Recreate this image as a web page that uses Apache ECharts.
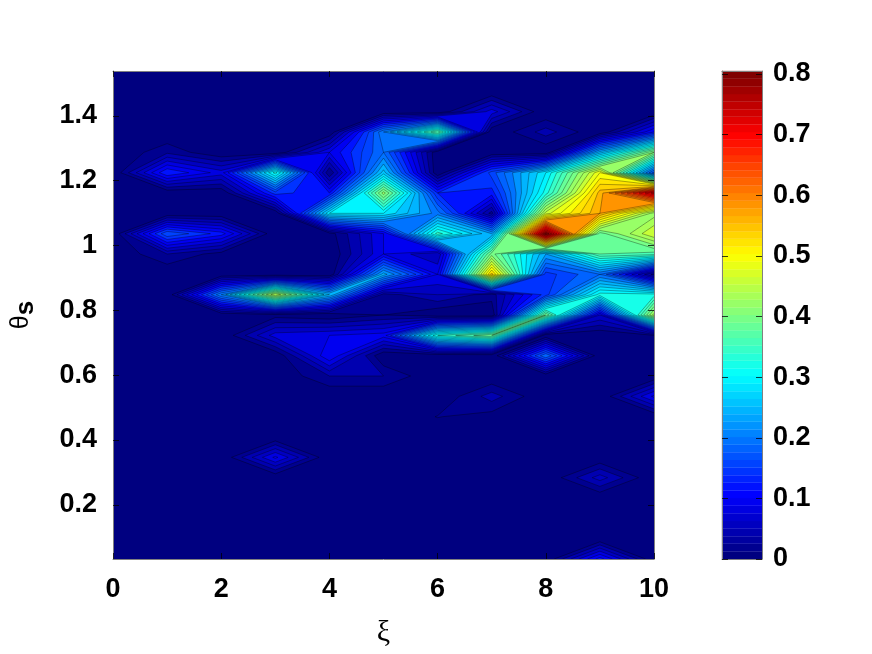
<!DOCTYPE html>
<html>
<head>
<meta charset="utf-8">
<style>
html,body{margin:0;padding:0;background:#fff}
#main{width:872px;height:654px}
</style>
<script src="https://cdn.jsdelivr.net/npm/echarts@6/dist/echarts.min.js"></script>
</head>
<body>
<div id="main"></div>
<script>
// grid of the contour plot
var xiValues = [0,1,2,3,4,5,6,7,8,9,10];
var thetaValues = [0.0327,0.0954,0.1581,0.2208,0.2836,0.3463,0.4090,0.4717,0.5345,0.5972,0.6599,0.7226,0.7854,
  0.8481,0.9108,0.9735,1.0363,1.0990,1.1617,1.2244,1.2872,1.3499,1.4126,1.4753,1.5381];
// rows go from the lowest theta to the highest, columns are xi 0..10
var zValues = [
  [0,0,0,0,0,0,0,0,0,.13,0],
  [0,0,0,0,0,0,0,0,0,0,0],
  [0,0,0,0,0,0,0,0,0,0,0],
  [0,0,0,0,0,0,0,0,0,0,0],
  [0,0,0,0,0,0,0,0,0,.07,0],
  [0,0,0,.105,0,0,0,0,0,0,0],
  [0,0,0,0,0,0,0,0,0,0,0],
  [0,0,0,0,0,0,.021,.01,0,0,0],
  [0,0,0,0,0,0,0,.05,0,0,.105],
  [0,0,0,0,.04,.04,0,0,0,0,0],
  [0,0,0,0,.12,0,0,0,.2,0,0],
  [0,0,0,.09,.1,.11,.34,.4,0,0,.02],
  [0,0,0,.01,0,.02,0,0,.4,.08,.45],
  [0,0,.22,.46,.26,.03,.06,.03,.15,.33,.33],
  [0,0,0,0,0,.25,.1,.55,.15,.2,.03],
  [0,.04,.01,0,0,.1,.06,.41,.24,.38,.37],
  [0,.18,.13,0,.01,.1,.35,.24,.805,.39,.48],
  [0,0,0,0,.3,.3,.21,.03,.47,.58,.43],
  [0,0,0,.15,.12,.43,.14,.13,.33,.57,.75],
  [0,.14,.09,.33,.02,.27,0,.17,.3,.5,.17],
  [0,.035,0,0,.1,.2,0,0,0,.25,.42],
  [0,0,0,0,0,.22,.38,0,.05,0,.12],
  [0,0,0,0,0,0,0,.09,0,0,0],
  [0,0,0,0,0,0,0,0,0,0,0],
  [0,0,0,0,0,0,0,0,0,0,0]
];
var xTicks = [0,2,4,6,8,10];
var yTicks = [0.2,0.4,0.6,0.8,1,1.2,1.4];
var colorbarTicks = [0,0.1,0.2,0.3,0.4,0.5,0.6,0.7,0.8];
var levelStep = 0.02;
var levelCount = 41;
var zMax = 0.805;

// jet, 64 steps, from navy to dark red
function jetColor(i) {
  var t = i / 63;
  function part(c) {
    return Math.round(255 * Math.max(0, Math.min(1, 1.5 - Math.abs(4 * t - c))));
  }
  return 'rgb(' + part(3) + ',' + part(2) + ',' + part(1) + ')';
}
function levelColor(v) {
  return jetColor(Math.min(63, Math.floor(v / zMax * 64 + 1e-6)));
}

// one data item per contour level
var levelItems = [];
for (var n = 0; n < levelCount; n++) levelItems.push([xiValues[0], thetaValues[0], n]);

function cellCorners(i, j) {
  return [
    {x: xiValues[i], y: thetaValues[j], v: zValues[j][i]},
    {x: xiValues[i + 1], y: thetaValues[j], v: zValues[j][i + 1]},
    {x: xiValues[i + 1], y: thetaValues[j + 1], v: zValues[j + 1][i + 1]},
    {x: xiValues[i], y: thetaValues[j + 1], v: zValues[j + 1][i]}
  ];
}
// true when this level cuts all four edges of the cell
function isSaddleLevel(c, level) {
  var a = c[0].v >= level, b = c[1].v >= level, d = c[2].v >= level, e = c[3].v >= level;
  return a === d && b === e && a !== b;
}
// a saddle is cut along its rising diagonal, as the reference joins it that way
function piecesFor(c, level) {
  return isSaddleLevel(c, level) ? [[c[0], c[1], c[2]], [c[0], c[2], c[3]]] : [c];
}
function crossing(p, q, level) {
  if ((p.v < level && q.v >= level) || (p.v >= level && q.v < level)) {
    var t = (level - p.v) / (q.v - p.v);
    return [p.x + (q.x - p.x) * t, p.y + (q.y - p.y) * t];
  }
  return null;
}
function pathOf(pts, api, close) {
  var s = '';
  pts.forEach(function (d, k) {
    var p = api.coord(d);
    s += (k ? 'L' : 'M') + p[0].toFixed(2) + ' ' + p[1].toFixed(2);
  });
  return s + (close ? 'Z' : '');
}
function eachPiece(level, fn) {
  for (var j = 0; j < thetaValues.length - 1; j++) {
    for (var i = 0; i < xiValues.length - 1; i++) {
      piecesFor(cellCorners(i, j), level).forEach(fn);
    }
  }
}

// levels are painted from low to high, each one over the last,
// all cells of a level go in one path so no seams show between them
function renderFill(params, api) {
  var level = api.value(2) * levelStep;
  var path = '';
  eachPiece(level, function (c) {
    var pts = [];
    for (var k = 0; k < c.length; k++) {
      var p = c[k], q = c[(k + 1) % c.length];
      if (p.v >= level) pts.push([p.x, p.y]);
      var a = crossing(p, q, level);
      if (a) pts.push(a);
    }
    if (pts.length >= 3) path += pathOf(pts, api, true);
  });
  if (!path) return null;
  return {
    type: 'path',
    shape: {pathData: path},
    style: {fill: levelColor(level), stroke: null},
    silent: true
  };
}

function renderLines(params, api) {
  var level = api.value(2) * levelStep;
  if (level === 0) return null;
  var path = '';
  eachPiece(level, function (c) {
    var pts = [];
    for (var k = 0; k < c.length; k++) {
      var a = crossing(c[k], c[(k + 1) % c.length], level);
      if (a) pts.push(a);
    }
    if (pts.length >= 2) path += pathOf(pts.slice(0, 2), api, false);
  });
  if (!path) return null;
  return {
    type: 'path',
    shape: {pathData: path},
    style: {fill: null, stroke: '#000', lineWidth: 0.5, opacity: 0.65},
    silent: true
  };
}

var colorbarData = [];
for (var b = 0; b < 64; b++) colorbarData.push([0, b / 64 * zMax, b]);

function renderColorbar(params, api) {
  var b = api.value(2);
  var p0 = api.coord([0, b / 64 * zMax]);
  var p1 = api.coord([1, (b + 1) / 64 * zMax]);
  return {
    type: 'rect',
    shape: {x: p0[0], y: p1[1], width: p1[0] - p0[0], height: p0[1] - p1[1]},
    style: {fill: jetColor(b), stroke: jetColor(b), lineWidth: 0.3},
    silent: true
  };
}

var labelFont = {fontFamily: 'Liberation Sans', fontWeight: 'bold', fontSize: 27, color: '#000', padding: [2, 0, 0, 0]};
var frame = {show: true, onZero: false, lineStyle: {color: '#808080', width: 1}};
var ticks = {show: true, inside: true, length: 6, lineStyle: {color: '#000', width: 1, opacity: 0.75}};

var chart = echarts.init(document.getElementById('main'), null, {renderer: 'canvas'});
chart.setOption({
  animation: false,
  backgroundColor: '#fff',
  grid: [
    {left: 113, top: 71, width: 541, height: 488, outerBoundsMode: 'none', show: true, borderWidth: 0, backgroundColor: jetColor(0)},
    {left: 722, top: 71, width: 40, height: 488, outerBoundsMode: 'none'}
  ],
  xAxis: [
    {
      gridIndex: 0, type: 'value', position: 'bottom', min: 0, max: 10, interval: 2, z: 10,
      axisLine: frame, axisTick: ticks, splitLine: {show: false},
      axisLabel: Object.assign({margin: 15, showMinLabel: true, showMaxLabel: true, customValues: xTicks}, labelFont),
      name: 'ξ', nameLocation: 'middle', nameGap: 59,
      nameTextStyle: {fontFamily: 'Liberation Serif', fontSize: 30, color: '#000'}
    },
    {
      gridIndex: 0, type: 'value', position: 'top', min: 0, max: 10, interval: 2, z: 10,
      axisLine: frame, axisTick: ticks, axisLabel: {show: false}, splitLine: {show: false}
    },
    {
      gridIndex: 1, type: 'value', position: 'bottom', min: 0, max: 1, z: 10,
      axisLine: frame, axisTick: {show: false}, axisLabel: {show: false}, splitLine: {show: false}
    },
    {
      gridIndex: 1, type: 'value', position: 'top', min: 0, max: 1, z: 10,
      axisLine: frame, axisTick: {show: false}, axisLabel: {show: false}, splitLine: {show: false}
    }
  ],
  yAxis: [
    {
      gridIndex: 0, type: 'value', position: 'left', min: thetaValues[0], max: thetaValues[24], z: 10,
      axisLine: frame,
      axisTick: Object.assign({}, ticks, {customValues: yTicks}),
      splitLine: {show: false},
      axisLabel: Object.assign({margin: 16, customValues: yTicks}, labelFont),
      name: '{t|θ}{s|s}', nameLocation: 'middle', nameGap: 74, nameRotate: 90,
      nameTextStyle: {
        rich: {
          t: {fontFamily: 'Liberation Sans', fontSize: 25, color: '#000', lineHeight: 30, verticalAlign: 'top'},
          s: {fontFamily: 'Liberation Sans', fontWeight: 'bold', fontSize: 26, color: '#000', lineHeight: 26, verticalAlign: 'bottom'}
        }
      }
    },
    {
      gridIndex: 0, type: 'value', position: 'right', min: thetaValues[0], max: thetaValues[24], z: 10,
      axisLine: frame,
      axisTick: Object.assign({}, ticks, {customValues: yTicks}),
      axisLabel: {show: false}, splitLine: {show: false}
    },
    {
      gridIndex: 1, type: 'value', position: 'left', min: 0, max: zMax, z: 10,
      axisLine: frame, axisTick: Object.assign({}, ticks, {customValues: colorbarTicks}),
      axisLabel: {show: false}, splitLine: {show: false}
    },
    {
      gridIndex: 1, type: 'value', position: 'right', min: 0, max: zMax, z: 10,
      axisLine: frame, axisTick: Object.assign({}, ticks, {customValues: colorbarTicks}), splitLine: {show: false},
      axisLabel: Object.assign({margin: 11, customValues: colorbarTicks}, labelFont)
    }
  ],
  series: [
    {type: 'custom', xAxisIndex: 0, yAxisIndex: 0, z: 1, data: levelItems, renderItem: renderFill, silent: true, clip: true},
    {type: 'custom', xAxisIndex: 0, yAxisIndex: 0, z: 2, data: levelItems, renderItem: renderLines, silent: true, clip: true},
    {type: 'custom', xAxisIndex: 2, yAxisIndex: 2, z: 1, data: colorbarData, renderItem: renderColorbar, silent: true}
  ]
});
</script>
</body>
</html>
